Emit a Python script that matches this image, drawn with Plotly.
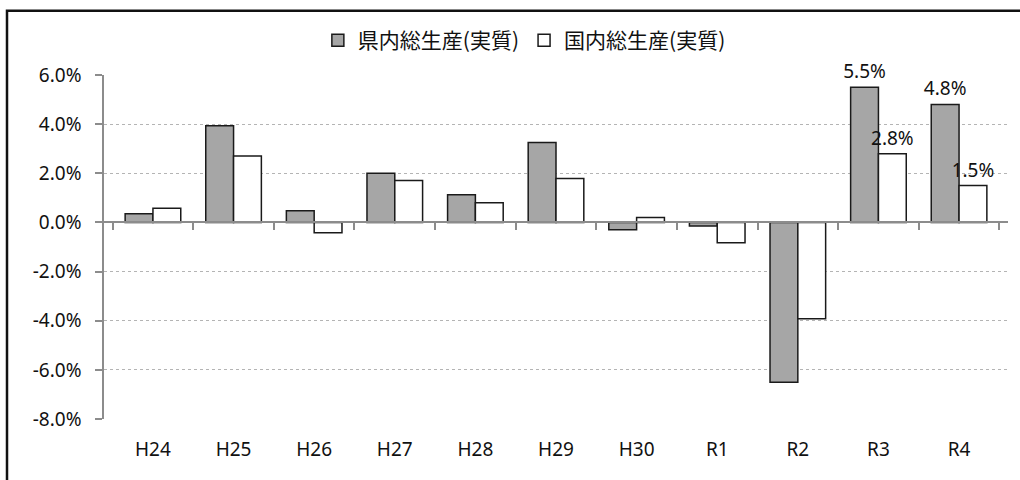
import plotly.graph_objects as go

# Fiscal years (Heisei / Reiwa)
years = ["H24", "H25", "H26", "H27", "H28", "H29", "H30", "R1", "R2", "R3", "R4"]

# Real growth rates (%)
prefectural_gdp = [0.35, 3.93, 0.48, 2.0, 1.13, 3.25, -0.3, -0.15, -6.5, 5.5, 4.8]
national_gdp = [0.58, 2.7, -0.42, 1.71, 0.8, 1.79, 0.2, -0.83, -3.92, 2.8, 1.5]

# Only the latest two years carry value labels
labeled_years = {"R3", "R4"}

y_ticks = [6, 4, 2, 0, -2, -4, -6, -8]
y_tick_labels = [f"{v:.1f}%" for v in y_ticks]

num_font = "Noto Sans"
jp_font = "Noto Sans CJK JP"

# Frame position in paper units (plot area spans 104..1008 x, 74.5..419.3 y)
plot_w = 904.0
plot_h = 344.8
frame_left = (7 - 104) / plot_w
frame_right = (1030 - 104) / plot_w
frame_top = 1 + (74.5 - 10) / plot_h
frame_bottom = -(490 - 419.3) / plot_h


def labels(values):
    return [f"{v:.1f}%" if y in labeled_years else "" for y, v in zip(years, values)]


fig = go.Figure()
fig.add_trace(go.Bar(
    x=years, y=prefectural_gdp, name="県内総生産(実質)",
    marker=dict(color="#a6a6a6", line=dict(color="#1a1a1a", width=1.5)),
    text=labels(prefectural_gdp), textposition="outside",
    textfont=dict(family=num_font, size=19, color="#111"),
    constraintext="none", cliponaxis=False,
))
fig.add_trace(go.Bar(
    x=years, y=national_gdp, name="国内総生産(実質)",
    marker=dict(color="#ffffff", line=dict(color="#1a1a1a", width=1.5)),
    text=labels(national_gdp), textposition="outside",
    textfont=dict(family=num_font, size=19, color="#111"),
    constraintext="none", cliponaxis=False,
))
# Invisible helper trace so the bottom category axis is rendered
fig.add_trace(go.Scatter(
    x=years, y=[0] * len(years), xaxis="x2", mode="markers",
    marker=dict(opacity=0), showlegend=False, hoverinfo="skip",
))

fig.update_layout(
    width=1020, height=480,
    margin=dict(l=104, r=12, t=74.5, b=60.7),
    paper_bgcolor="white", plot_bgcolor="white",
    barmode="group", bargap=0.31, bargroupgap=0,
    showlegend=True,
    legend=dict(
        orientation="h", x=0.465, xanchor="center", y=1.10, yanchor="middle",
        font=dict(family=jp_font, size=21, color="#111"),
        itemwidth=30, traceorder="normal", tracegroupgap=0,
        bgcolor="rgba(0,0,0,0)",
    ),
    # Category axis drawn along the zero line, with ticks between groups
    xaxis=dict(
        type="category", categoryorder="array", categoryarray=years,
        anchor="free", position=8 / 14,
        showline=True, linecolor="#8c8c8c", linewidth=1.5,
        ticks="outside", tickson="boundaries", ticklen=7, tickwidth=1.5,
        tickcolor="#8c8c8c",
        showticklabels=False, showgrid=False, zeroline=False,
    ),
    # Category labels at the bottom of the plot
    xaxis2=dict(
        type="category", categoryorder="array", categoryarray=years,
        overlaying="x", matches="x", anchor="y", side="bottom",
        showline=False, ticks="", showgrid=False, zeroline=False,
        tickfont=dict(family=num_font, size=19, color="#111"),
        ticklabelstandoff=17,
    ),
    yaxis=dict(
        range=[-8, 6], tickvals=y_ticks, ticktext=y_tick_labels,
        showline=True, linecolor="#8c8c8c", linewidth=1.5,
        ticks="outside", ticklen=7, tickwidth=1.5, tickcolor="#8c8c8c",
        showgrid=True, gridcolor="#b4b4b4", gridwidth=1, griddash="dot",
        zeroline=True, zerolinecolor="#8c8c8c", zerolinewidth=1.5,
        tickfont=dict(family=num_font, size=19, color="#111"),
        ticklabelstandoff=10,
    ),
    # Outer chart frame
    shapes=[
        dict(type="rect", xref="paper", yref="paper",
             x0=frame_left, x1=frame_right, y0=frame_bottom, y1=frame_top,
             line=dict(color="#111", width=2.5), fillcolor="rgba(0,0,0,0)",
             layer="above"),
    ],
)

fig.write_html("out.html")
